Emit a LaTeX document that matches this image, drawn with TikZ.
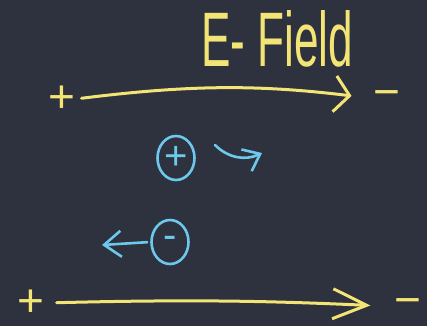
\documentclass[tikz,border=0pt]{standalone}
\usepackage{fontspec}
\setmainfont{Liberation Sans}
\usepackage{graphicx}
\usetikzlibrary{arrows.meta,shapes.geometric}

\definecolor{board}{RGB}{46,50,63}
\definecolor{chalkyellow}{RGB}{243,228,118}
\definecolor{chalkblue}{RGB}{108,201,236}

\tikzset{
  chalk/.style={line width=3pt, line cap=round, line join=round},
  sign/.style={inner sep=0pt, text=chalkyellow, font=\fontsize{46}{46}\selectfont},
  charge/.style={draw=chalkblue, ellipse, line width=2.6pt, minimum width=37pt, minimum height=44pt,
    inner sep=0pt, text=chalkblue, font=\fontsize{40}{40}\selectfont}
}

\begin{document}
\begin{tikzpicture}[x=1pt,y=-1pt]
\fill[board] (0,0) rectangle (427,326);
\useasboundingbox (0,0) rectangle (427,326);

\node[inner sep=0pt, text=chalkyellow] (field) at (277,39) {\resizebox{152pt}{56pt}{E- Field}};

%Top plates
\node[sign] (pa) at (62,99) {+};
\node[sign, anchor=base] (ma) at (387,107) {−};
\draw[chalk, chalkyellow, shorten <=6pt, shorten >=22pt, -{Straight Barb[length=15pt,width=36pt]}] (pa.east) to[bend left=7] (ma.west);

%Charges
\node[charge] (qp) at (176,158) {+};
\coordinate (fps) at (215,145);
\coordinate (fpe) at (262,153);
\draw[chalk, chalkblue, line width=2.6pt, -{Straight Barb[length=15pt,width=24pt]}] (fps) to[bend right=35] (fpe);

\node[charge] (qm) at (170,242) {-};
\coordinate (fme) at (102,245);
\draw[chalk, chalkblue, line width=2.6pt, shorten <=3pt, -{Straight Barb[length=17pt,width=26pt]}] (qm.west) -- (fme);

%Bottom plates
\node[sign] (pb) at (31,303) {+};
\node[sign, anchor=base] (mb) at (408,315) {−};
\draw[chalk, chalkyellow, shorten <=12pt, shorten >=24pt, -{Straight Barb[length=34pt,width=30pt]}] (pb.east) to[bend left=2] (mb.west);
\end{tikzpicture}
\end{document}
